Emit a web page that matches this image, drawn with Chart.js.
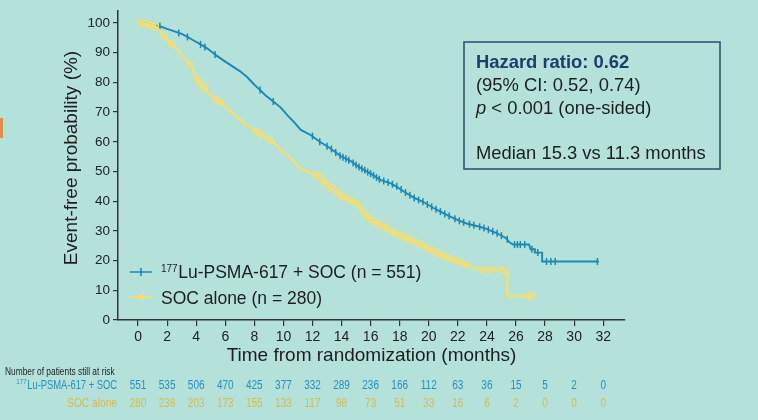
<!DOCTYPE html>
<html>
<head>
<meta charset="utf-8">
<script src="https://cdn.jsdelivr.net/npm/chart.js@4.4.1/dist/chart.umd.min.js"></script>
<style>
  html, body { margin: 0; padding: 0; background: #b4e2db; }
  #wrap { position: relative; width: 758px; height: 420px; }
  #edge { position: absolute; left: 0; top: 118px; width: 3px; height: 20px; background: #e98a3c; }
</style>
</head>
<body>
<div id="wrap">
  <canvas id="kmChart" width="758" height="420"></canvas>
  <div id="edge"></div>
</div>
<script>
const FONT = '"Liberation Sans", Arial, sans-serif';

// Kaplan-Meier curves (months, % event-free)
const luTime = [0, 0.5, 1.0, 1.5, 2.0, 2.5, 3.0, 3.4, 3.8, 4.3, 4.8, 5.4, 6.0, 6.5, 7.0, 7.5, 8.0, 8.4, 8.8, 9.3, 9.8,
  10.3, 10.7, 11.2, 11.9, 12.5, 13.2, 13.9, 14.6, 15.3, 16.0, 16.7, 17.4, 18.0, 18.5, 19.0, 19.6, 20.3, 21.3,
  22.0, 22.6, 23.5, 24.0, 24.7, 25.3, 25.6, 25.8, 26.9, 27.0, 27.3, 27.3, 27.8, 27.8, 31.7];
const luSurv = [100, 99.8, 99.4, 98.9, 98.0, 97.2, 96.3, 95.3, 94.2, 92.8, 91.3, 89.0, 87.0, 85.4, 83.8, 81.8, 79.2, 77.4, 75.5, 73.6, 71.6,
  68.8, 66.8, 64.0, 62.2, 60.0, 57.9, 55.3, 53.6, 51.2, 49.3, 47.1, 46.0, 44.2, 42.6, 41.1, 39.8, 37.8, 35.2,
  33.6, 32.5, 31.4, 30.6, 29.2, 27.6, 26.0, 25.4, 25.4, 23.8, 23.8, 22.7, 22.7, 19.7, 19.7];

const socTime = [0, 0.6, 1.2, 1.5, 1.75, 2.1, 2.4, 2.8, 3.1, 3.5, 3.8, 4.05, 4.6, 5.3, 5.9, 6.35, 6.9, 7.5, 8.2, 9.1, 9.7,
  10.3, 10.8, 11.2, 11.8, 12.5, 13.0, 13.9, 14.5, 15.1, 15.5, 15.8, 16.3, 16.7, 17.6, 18.3, 19.0, 19.8, 20.6,
  21.3, 22.2, 23.1, 23.6, 25.4, 25.4, 27.2];
const socSurv = [100, 99.6, 98.8, 97.5, 95.8, 94.0, 92.5, 90.5, 88.5, 86.6, 84.0, 81.2, 77.9, 74.4, 72.3, 70.3, 68.0, 65.6, 63.3, 60.6, 58.0,
  55.7, 52.8, 50.9, 49.8, 48.5, 45.5, 42.2, 40.5, 39.2, 36.5, 34.6, 33.0, 32.0, 29.5, 28.0, 26.5, 24.5, 22.6,
  21.0, 19.5, 17.5, 16.9, 16.9, 8.1, 8.1];

// censoring marks
const luCensTime = [1.5, 2.8, 3.4, 4.3, 4.6, 5.3, 8.4, 9.3, 12.0, 12.5, 13.0, 13.3, 13.6, 13.9, 14.1, 14.3, 14.5, 14.8, 15.0,
  15.2, 15.4, 15.6, 15.8, 16.0, 16.2, 16.4, 16.6, 16.9, 17.2, 17.5, 17.8, 18.1, 18.4, 18.7, 19.0, 19.3, 19.6,
  19.9, 20.2, 20.5, 20.8, 21.1, 21.4, 21.8, 22.1, 22.4, 22.8, 23.1, 23.5, 23.8, 24.1, 24.4, 24.7, 25.0, 25.4,
  25.9, 26.1, 26.3, 26.6, 27.1, 27.5, 28.1, 28.4, 28.7, 31.6];
const luCensSurv = [98.9, 96.6, 95.3, 92.8, 91.9, 89.4, 77.4, 73.6, 61.9, 60.0, 58.5, 57.6, 56.4, 55.3, 54.8, 54.3, 53.8, 52.9, 52.2,
  51.5, 50.9, 50.4, 49.8, 49.3, 48.7, 48.0, 47.4, 46.8, 46.3, 45.7, 45.0, 43.9, 42.9, 42.0, 41.1, 40.4, 39.8,
  38.9, 38.1, 37.3, 36.5, 35.7, 35.0, 34.1, 33.4, 32.9, 32.3, 31.9, 31.4, 31.0, 30.4, 29.8, 29.2, 28.4, 27.2,
  25.4, 25.4, 25.4, 25.4, 23.8, 22.7, 19.7, 19.7, 19.7, 19.7];

const socCensTime = [0.2, 0.5, 0.8, 1.0, 1.2, 1.8, 2.3, 3.6, 4.1, 4.4, 4.6, 5.4, 5.6, 8.2, 8.5, 9.1, 12.3, 12.6, 12.9, 13.2,
  13.5, 13.8, 14.1, 14.4, 14.7, 15.0, 15.3, 15.6, 15.9, 16.2, 16.5, 16.8, 17.1, 17.4, 17.7, 18.0, 18.3, 18.6,
  18.9, 19.2, 19.5, 19.8, 20.1, 20.4, 20.7, 21.0, 21.4, 21.8, 22.2, 22.6, 23.7, 24.3, 25.1, 26.9, 27.1];
const socCensSurv = [100, 99.7, 99.3, 99.0, 98.8, 95.6, 93.0, 86.0, 81.0, 79.0, 77.9, 74.2, 73.6, 63.3, 62.4, 60.6, 48.9, 48.0, 46.1, 44.8,
  43.8, 42.6, 41.6, 40.8, 40.1, 39.4, 38.0, 35.9, 34.3, 33.3, 32.5, 31.8, 31.0, 30.1, 29.3, 28.6, 28.0, 27.4,
  26.7, 26.0, 25.3, 24.5, 23.8, 23.1, 22.4, 21.7, 20.8, 20.2, 19.5, 18.6, 16.9, 16.9, 16.9, 8.1, 8.1];

const xTicks = [0, 2, 4, 6, 8, 10, 12, 14, 16, 18, 20, 22, 24, 26, 28, 30, 32];
const yTicks = [0, 10, 20, 30, 40, 50, 60, 70, 80, 90, 100];

// number at risk
const riskTimes = [0, 2, 4, 6, 8, 10, 12, 14, 16, 18, 20, 22, 24, 26, 28, 30, 32];
const luAtRisk = [551, 535, 506, 470, 425, 377, 332, 289, 236, 166, 112, 63, 36, 15, 5, 2, 0];
const socAtRisk = [280, 238, 203, 173, 155, 133, 117, 98, 73, 51, 33, 16, 6, 2, 0, 0, 0];

const BLUE = '#1c88b3';
const YELLOW = '#f5de70';
const RISK_BLUE = '#2a8dc0';
const RISK_YELLOW = '#d8ba48';

const pts = (xs, ys) => xs.map((t, i) => ({ x: t, y: ys[i] }));

function narrowText(ctx, text, x, y, sx, align) {
  const w = ctx.measureText(text).width * sx;
  let left = x;
  if (align === 'right') left = x - w;
  if (align === 'center') left = x - w / 2;
  ctx.save();
  ctx.translate(left, y);
  ctx.scale(sx, 1);
  ctx.textAlign = 'left';
  ctx.fillText(text, 0, 0);
  ctx.restore();
  return w;
}

const overlay = {
  id: 'overlay',
  afterDraw(chart) {
    const { ctx, chartArea } = chart;
    const x = chart.scales.x;
    ctx.save();

    // axis titles
    ctx.fillStyle = '#1e1e1e';
    ctx.font = '19px ' + FONT;
    ctx.textAlign = 'center';
    ctx.textBaseline = 'middle';
    ctx.fillText('Time from randomization (months)', (chartArea.left + chartArea.right) / 2, 356);
    ctx.save();
    ctx.translate(72, 158);
    ctx.rotate(-Math.PI / 2);
    ctx.fillText('Event-free probability (%)', 0, 0);
    ctx.restore();

    // legend
    ctx.textBaseline = 'alphabetic';
    ctx.textAlign = 'left';
    ctx.lineWidth = 1.6;
    ctx.strokeStyle = BLUE;
    ctx.beginPath();
    ctx.moveTo(130, 272); ctx.lineTo(152, 272);
    ctx.moveTo(141, 268); ctx.lineTo(141, 276);
    ctx.stroke();
    ctx.fillStyle = '#1e1e1e';
    ctx.font = '10px ' + FONT;
    ctx.fillText('177', 161, 272);
    const supW = ctx.measureText('177').width;
    ctx.font = '17.5px ' + FONT;
    ctx.fillText('Lu-PSMA-617 + SOC (n = 551)', 161 + supW + 0.5, 278);

    ctx.strokeStyle = YELLOW;
    ctx.lineWidth = 2;
    ctx.beginPath();
    ctx.moveTo(130, 297); ctx.lineTo(152, 297);
    ctx.stroke();
    ctx.fillStyle = YELLOW;
    ctx.beginPath();
    ctx.arc(141, 297, 3, 0, Math.PI * 2);
    ctx.fill();
    ctx.fillStyle = '#1e1e1e';
    ctx.fillText('SOC alone (n = 280)', 161, 304);

    // hazard ratio box
    ctx.strokeStyle = '#2a4a70';
    ctx.lineWidth = 1.5;
    ctx.strokeRect(464, 42, 256, 127);
    ctx.fillStyle = '#1d3d6b';
    ctx.font = 'bold 18.4px ' + FONT;
    ctx.fillText('Hazard ratio: 0.62', 476, 68);
    ctx.fillStyle = '#1e1e1e';
    ctx.font = '18.4px ' + FONT;
    ctx.fillText('(95% CI: 0.52, 0.74)', 476, 91);
    ctx.font = 'italic 18.4px ' + FONT;
    ctx.fillText('p', 476, 114);
    const pW = ctx.measureText('p').width;
    ctx.font = '18.4px ' + FONT;
    ctx.fillText(' < 0.001 (one-sided)', 476 + pW, 114);
    ctx.fillText('Median 15.3 vs 11.3 months', 476, 159);

    // number at risk table
    const sx = 0.8;
    ctx.textBaseline = 'middle';
    ctx.fillStyle = '#1e1e1e';
    ctx.font = '11px ' + FONT;
    narrowText(ctx, 'Number of patients still at risk', 5, 372, 0.76, 'left');

    ctx.fillStyle = RISK_BLUE;
    ctx.font = '12px ' + FONT;
    const labW = narrowText(ctx, 'Lu-PSMA-617 + SOC', 117, 386, 0.78, 'right');
    ctx.font = '8px ' + FONT;
    narrowText(ctx, '177', 117 - labW - 0.5, 382, 0.78, 'right');
    ctx.font = '12.5px ' + FONT;
    riskTimes.forEach((t, i) => narrowText(ctx, String(luAtRisk[i]), x.getPixelForValue(t), 386, sx, 'center'));

    ctx.fillStyle = RISK_YELLOW;
    ctx.font = '12px ' + FONT;
    narrowText(ctx, 'SOC alone', 117, 404, 0.85, 'right');
    ctx.font = '12.5px ' + FONT;
    riskTimes.forEach((t, i) => narrowText(ctx, String(socAtRisk[i]), x.getPixelForValue(t), 404, sx, 'center'));

    ctx.restore();
  }
};

new Chart(document.getElementById('kmChart').getContext('2d'), {
  type: 'line',
  data: {
    datasets: [
      { data: pts(socCensTime, socCensSurv), showLine: false, pointStyle: 'circle', pointRadius: 3,
        pointBorderColor: YELLOW, pointBackgroundColor: 'rgba(0,0,0,0)', pointBorderWidth: 1.3 },
      { data: pts(socTime, socSurv), borderColor: YELLOW, borderWidth: 2.4, pointRadius: 0, fill: false, tension: 0 },
      { data: pts(luCensTime, luCensSurv), showLine: false, pointStyle: 'line', pointRotation: 90, pointRadius: 3.5,
        pointBorderColor: BLUE, pointBorderWidth: 1.5 },
      { data: pts(luTime, luSurv), borderColor: BLUE, borderWidth: 1.9, pointRadius: 0, fill: false, tension: 0 }
    ]
  },
  options: {
    responsive: false,
    animation: false,
    layout: { padding: { left: 0, right: 133, top: 0, bottom: 0 } },
    plugins: { legend: { display: false }, tooltip: { enabled: false } },
    scales: {
      x: {
        type: 'linear',
        min: -1.38,
        max: 33.5,
        afterBuildTicks: ax => { ax.ticks = xTicks.map(v => ({ value: v })); },
        afterFit: ax => { ax.height = 100; },
        grid: { drawOnChartArea: false, drawTicks: true, tickLength: 6, color: '#333', lineWidth: 1.2 },
        border: { color: '#333', width: 1.5 },
        ticks: { font: { family: FONT, size: 14 }, color: '#222', padding: 3, maxRotation: 0 }
      },
      y: {
        min: 0,
        max: 104,
        afterBuildTicks: ax => { ax.ticks = yTicks.map(v => ({ value: v })); },
        afterFit: ax => { ax.width = 118; },
        grid: { drawOnChartArea: false, drawTicks: true, tickLength: 5, color: '#333', lineWidth: 1.2 },
        border: { color: '#333', width: 1.5 },
        ticks: { font: { family: FONT, size: 13.5 }, color: '#222', padding: 3 }
      }
    }
  },
  plugins: [overlay]
});
</script>
</body>
</html>
